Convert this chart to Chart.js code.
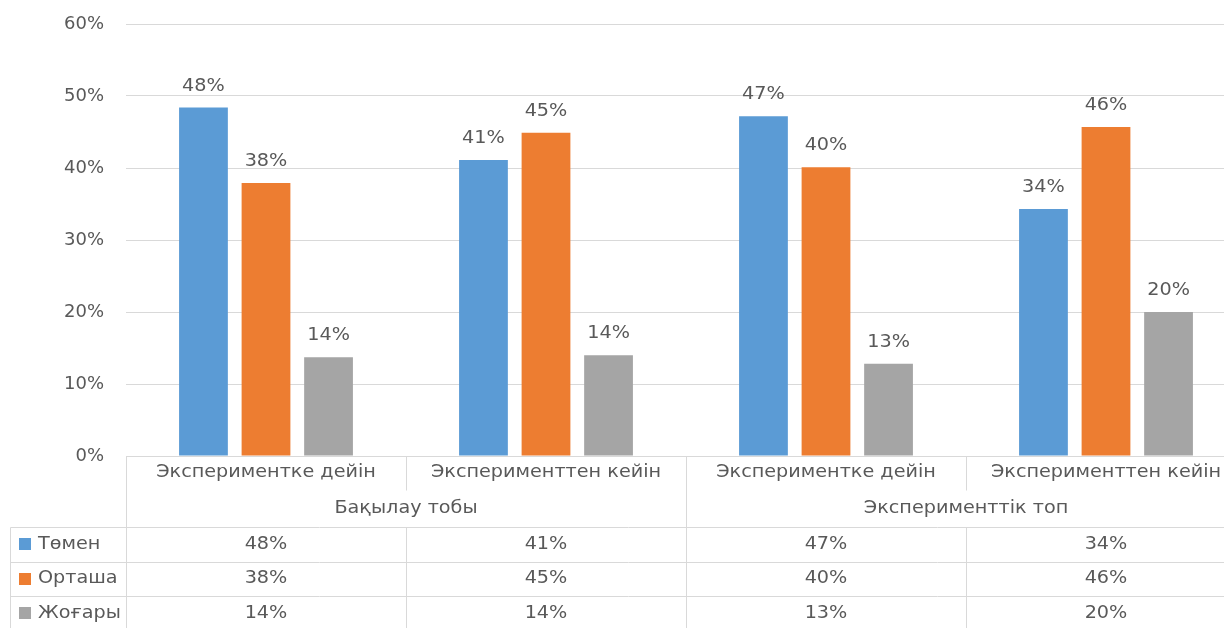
<!DOCTYPE html>
<html>
<head>
<meta charset="utf-8">
<script src="https://cdn.jsdelivr.net/npm/chart.js@4"></script>
<style>
  html, body { margin: 0; padding: 0; background: #fff; overflow: hidden; }
  #wrap { width: 1250px; height: 628px; position: relative; }
</style>
</head>
<body>
<div id="wrap"><canvas id="levelChart"></canvas></div>
<script>
// Chart data
const categories = ['Экспериментке дейін', 'Эксперименттен кейін', 'Экспериментке дейін', 'Эксперименттен кейін'];
const groups = ['Бақылау тобы', 'Эксперименттік топ'];
const seriesNames = ['Төмен', 'Орташа', 'Жоғары'];
const tomen = [48.4, 41.1, 47.2, 34.3];
const ortasha = [37.9, 44.9, 40.1, 45.7];
const zhogary = [13.7, 14.0, 12.8, 20.0];
const seriesColors = ['#5b9bd5', '#ed7d31', '#a5a5a5'];

const FONT = "'DejaVu Sans', sans-serif";
const TEXT = '#595959';
const LINE = '#d9d9d9';
const STRETCH = 1.13;   // the source text is a bit wider than DejaVu

const pct = v => Math.round(v) + '%';

// draws text slightly stretched horizontally
function drawText(ctx, str, x, y, align) {
    ctx.save();
    ctx.translate(x, y);
    ctx.scale(STRETCH, 1);
    ctx.textAlign = align || 'center';
    ctx.fillText(str, 0, 0);
    ctx.restore();
}

// value labels above the bars
const barLabels = {
    id: 'barLabels',
    afterDatasetsDraw(chart) {
        const ctx = chart.ctx;
        ctx.save();
        ctx.font = '17px ' + FONT;
        ctx.fillStyle = TEXT;
        ctx.textBaseline = 'alphabetic';
        chart.data.datasets.forEach((ds, i) => {
            chart.getDatasetMeta(i).data.forEach((bar, j) => {
                drawText(ctx, pct(ds.data[j]), bar.x, bar.y - 17);
            });
        });
        ctx.restore();
    }
};

// two-level axis + data table under the plot
const dataTable = {
    id: 'dataTable',
    afterDraw(chart) {
        const ctx = chart.ctx;
        const x = chart.scales.x;
        const top = chart.chartArea.bottom;
        const row1 = top + 34;
        const tableTop = top + 71;
        const rowH = 34.5;
        const tableLeft = 10;
        const n = categories.length;
        const bounds = [];
        for (let i = 0; i <= n; i++) bounds.push(x.left + (x.right - x.left) * i / n);
        const bottom = tableTop + rowH * 3 + 4;

        ctx.save();
        ctx.strokeStyle = LINE;
        ctx.lineWidth = 1;
        const line = (x1, y1, x2, y2) => {
            ctx.beginPath();
            ctx.moveTo(Math.round(x1) + 0.5, Math.round(y1) + 0.5);
            ctx.lineTo(Math.round(x2) + 0.5, Math.round(y2) + 0.5);
            ctx.stroke();
        };
        // vertical lines
        bounds.forEach((bx, i) => {
            if (i % 2 === 0) {
                line(bx, top, bx, bottom);
            } else {
                line(bx, top, bx, row1);
                line(bx, tableTop, bx, bottom);
            }
        });
        line(tableLeft, tableTop, tableLeft, bottom);
        // horizontal lines
        for (let r = 0; r <= 3; r++) {
            line(tableLeft, tableTop + rowH * r, x.right, tableTop + rowH * r);
        }

        ctx.font = '17px ' + FONT;
        ctx.fillStyle = TEXT;
        ctx.textBaseline = 'middle';
        categories.forEach((c, i) => {
            drawText(ctx, c, x.getPixelForValue(i), top + 17);
        });
        groups.forEach((g, i) => {
            drawText(ctx, g, (bounds[i * 2] + bounds[i * 2 + 2]) / 2, top + 53);
        });

        const rows = [tomen, ortasha, zhogary];
        rows.forEach((vals, r) => {
            const cy = tableTop + rowH * r + rowH / 2;
            ctx.fillStyle = TEXT;
            vals.forEach((v, i) => drawText(ctx, pct(v), x.getPixelForValue(i), cy));
            // legend key
            ctx.fillStyle = seriesColors[r];
            ctx.fillRect(19, Math.round(cy) - 6, 12, 12);
            ctx.fillStyle = TEXT;
            drawText(ctx, seriesNames[r], 38, cy, 'left');
        });
        ctx.restore();
    }
};

const ctx = document.getElementById('levelChart').getContext('2d');
new Chart(ctx, {
    type: 'bar',
    data: {
        labels: categories,
        datasets: [tomen, ortasha, zhogary].map((d, i) => ({
            label: seriesNames[i],
            data: d,
            backgroundColor: seriesColors[i],
            borderWidth: 0,
            categoryPercentage: 0.67,
            barPercentage: 0.78
        }))
    },
    options: {
        responsive: true,
        maintainAspectRatio: false,
        devicePixelRatio: 1,
        animation: false,
        layout: { padding: { left: 0, top: 24, right: 4, bottom: 172 } },
        scales: {
            x: { display: false },
            y: {
                min: 0,
                max: 60,
                afterFit(scale) {
                    scale.width = 126;
                    scale.paddingTop = 0;
                    scale.paddingBottom = 0;
                },
                ticks: {
                    stepSize: 10,
                    padding: 22,
                    color: TEXT,
                    font: { family: FONT, size: 18 },
                    callback: v => v + '%'
                },
                grid: { color: LINE, drawTicks: false },
                border: { display: false }
            }
        },
        plugins: {
            legend: { display: false },
            tooltip: { enabled: false }
        }
    },
    plugins: [barLabels, dataTable]
});
</script>
</body>
</html>
